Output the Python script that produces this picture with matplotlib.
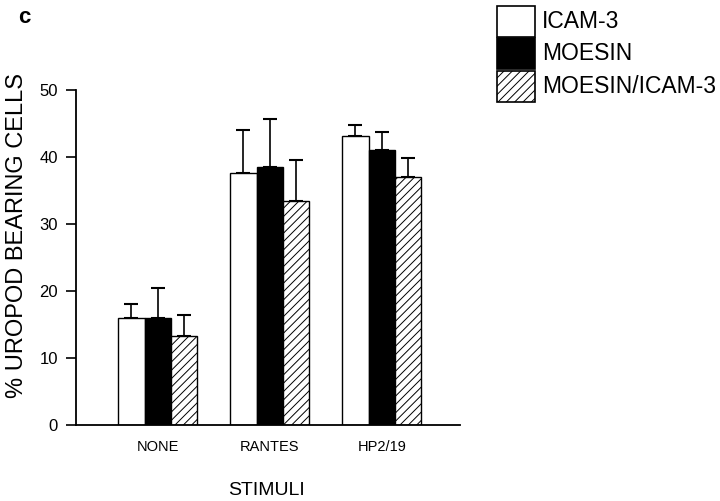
import matplotlib
matplotlib.use('Agg')
import matplotlib.pyplot as plt
from matplotlib.patches import Rectangle
import numpy as np

plt.rcParams['font.family'] = ['Liberation Sans', 'DejaVu Sans']
plt.rcParams['hatch.linewidth'] = 0.7

# Données
stimuli = ['NONE', 'RANTES', 'HP2/19']
series = ['ICAM-3', 'MOESIN', 'MOESIN/ICAM-3']
icam3 = [16.0, 37.7, 43.1]
moesin = [16.0, 38.6, 41.1]
moesin_icam3 = [13.3, 33.4, 37.1]
err_icam3 = [2.0, 6.4, 1.7]
err_moesin = [4.5, 7.1, 2.6]
err_moesin_icam3 = [3.2, 6.1, 2.7]

valeurs = [icam3, moesin, moesin_icam3]
erreurs = [err_icam3, err_moesin, err_moesin_icam3]
couleurs = ['white', 'black', 'white']
hachures = [None, None, '////']

fig = plt.figure(figsize=(7.2, 5.01), dpi=100)
ax = fig.add_axes([0.1056, 0.1517, 0.5334, 0.6683])

x = np.arange(len(stimuli))
w = 0.235
for i in range(3):
    pos = x + (i - 1) * w
    ax.bar(pos, valeurs[i], width=w, color=couleurs[i], edgecolor='black',
           linewidth=1.0, hatch=hachures[i], zorder=2)
    ax.errorbar(pos, valeurs[i], yerr=[np.zeros(3), erreurs[i]], fmt='none',
                ecolor='black', elinewidth=1.2, capsize=5, capthick=1.5, zorder=1)

ax.set_xlim(-0.73, 2.70)
ax.set_ylim(0, 50)
ax.set_yticks([0, 10, 20, 30, 40, 50])
ax.set_xticks(x)
ax.set_xticklabels(stimuli, fontsize=10.5)
ax.tick_params(axis='x', length=0, pad=11)
ax.tick_params(axis='y', direction='out', length=7, width=1.2, labelsize=12, pad=6)
for s in ['top', 'right']:
    ax.spines[s].set_visible(False)
ax.spines['left'].set_linewidth(1.3)
ax.spines['bottom'].set_linewidth(1.3)

fig.text(0.008, 0.53, '% UROPOD BEARING CELLS', rotation=90, fontsize=17,
         ha='left', va='center')
fig.text(0.37, 0.02, 'STIMULI', fontsize=14, ha='center', va='center')
fig.text(0.025, 0.965, 'c', fontsize=16, fontweight='bold', ha='left', va='center')

# Légende dessinée à la main
for i, nom in enumerate(series):
    y0 = 1 - (4 + 32.5 * (i + 1)) / 501
    r = Rectangle((497 / 720, y0), 38 / 720, 31 / 501, transform=fig.transFigure,
                  facecolor=couleurs[i], edgecolor='black', linewidth=1.2,
                  hatch=hachures[i])
    fig.patches.append(r)
    fig.text(542 / 720, y0 + 15 / 501, nom, fontsize=16.5, ha='left', va='center')

plt.savefig('out.png', dpi=100)
